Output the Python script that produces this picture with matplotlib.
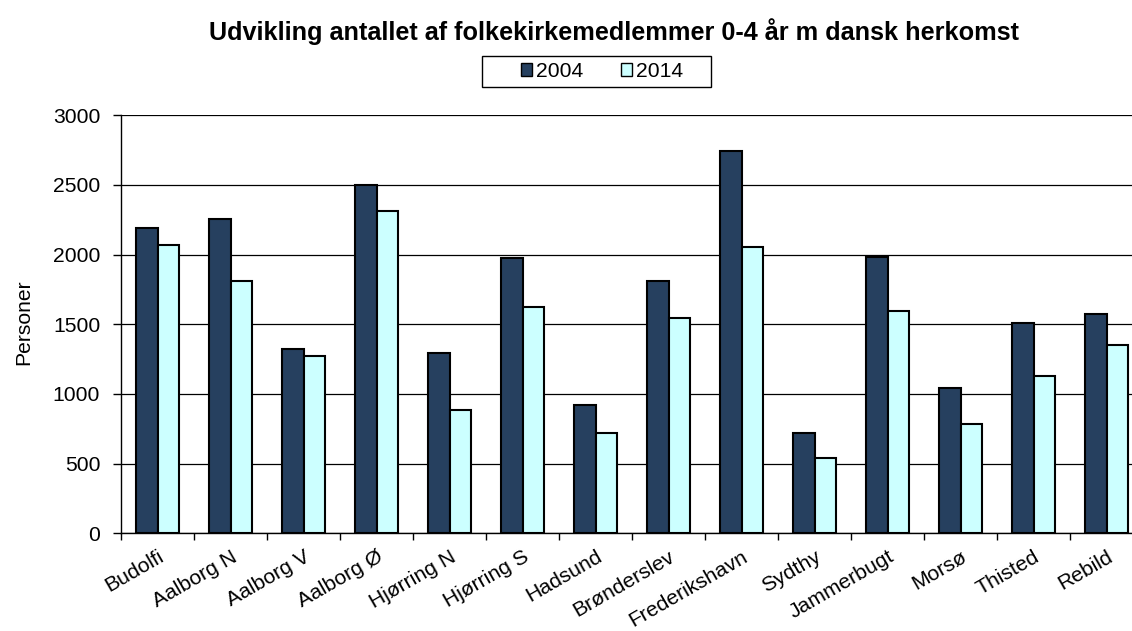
import numpy as np
import matplotlib
matplotlib.use("Agg")
from matplotlib import pyplot as plt
from matplotlib.patches import Patch, Rectangle

plt.rcParams['font.family'] = ['Liberation Sans', 'DejaVu Sans']

# data
PARISHES = ["Budolfi", "Aalborg N", "Aalborg V", "Aalborg Ø", "Hjørring N", "Hjørring S",
            "Hadsund", "Brønderslev", "Frederikshavn", "Sydthy", "Jammerbugt", "Morsø",
            "Thisted", "Rebild"]
VALUES_2004 = [2191, 2253, 1325, 2500, 1297, 1976, 919, 1811, 2746, 720, 1983, 1045, 1507, 1576]
VALUES_2014 = [2069, 1811, 1275, 2315, 887, 1624, 722, 1548, 2055, 538, 1593, 782, 1129, 1349]
YEARS = ["2004", "2014"]

COLOR_2004 = "#26405f"
COLOR_2014 = "#ccffff"
FS = 15.2


def main():
    W, H = 1132, 631
    fig = plt.figure(figsize=(W / 100, H / 100), dpi=100)
    # plot area runs a bit past the right edge of the picture, like the reference
    ax = fig.add_axes([121 / W, (H - 533.3) / H, 1022 / W, 418 / H])

    x = np.arange(len(PARISHES))
    width = 0.288
    ax.bar(x - width / 2, VALUES_2004, width, color=COLOR_2004, edgecolor="black", linewidth=1.5, zorder=3)
    ax.bar(x + width / 2, VALUES_2014, width, color=COLOR_2014, edgecolor="black", linewidth=1.5, zorder=3)

    ax.set_xlim(-0.5, len(PARISHES) - 0.5)
    ax.set_ylim(0, 3000)
    ax.set_yticks(range(0, 3001, 500))
    ax.yaxis.grid(True, color="black", linewidth=0.9, zorder=0)
    ax.set_axisbelow(True)

    # ticks at category boundaries, labels at centres
    ax.set_xticks(np.arange(len(PARISHES) + 1) - 0.5)
    ax.set_xticklabels([])
    ax.set_xticks(x, minor=True)
    ax.set_xticklabels(PARISHES, minor=True, rotation=30, ha="right", rotation_mode="anchor", fontsize=FS)
    ax.tick_params(axis="x", which="major", direction="out", length=5, width=1)
    ax.tick_params(axis="x", which="minor", length=0, pad=10)
    ax.tick_params(axis="y", direction="out", length=6, width=1, pad=9, labelsize=FS)

    for side in ["top", "right"]:
        ax.spines[side].set_visible(False)
    for side in ["left", "bottom"]:
        ax.spines[side].set_linewidth(1)

    fig.text(23.5 / W, 1 - 322 / H, "Personer", rotation=90, ha="center", va="center", fontsize=FS)
    fig.text(614 / W, 1 - 32 / H, "Udvikling antallet af folkekirkemedlemmer 0-4 år m dansk herkomst",
             ha="center", va="center", fontsize=18.2, fontweight="bold")

    # legend: frame drawn separately to get Excel's wide side padding
    fig.patches.append(Rectangle((482 / W, 1 - 87 / H), 229 / W, 31 / H, transform=fig.transFigure,
                                 facecolor="white", edgecolor="black", linewidth=1, zorder=1))
    handles = [Patch(facecolor=COLOR_2004, edgecolor="black", linewidth=1),
               Patch(facecolor=COLOR_2014, edgecolor="black", linewidth=1)]
    fig.legend(handles, YEARS, loc="center", bbox_to_anchor=(602 / W, 1 - 71.5 / H), ncol=2,
               fontsize=FS, frameon=False, handlelength=0.55, handleheight=0.55,
               handletextpad=0.2, columnspacing=1.75, borderpad=0, borderaxespad=0)

    fig.savefig("out.png", dpi=100)


if __name__ == '__main__':
    main()
